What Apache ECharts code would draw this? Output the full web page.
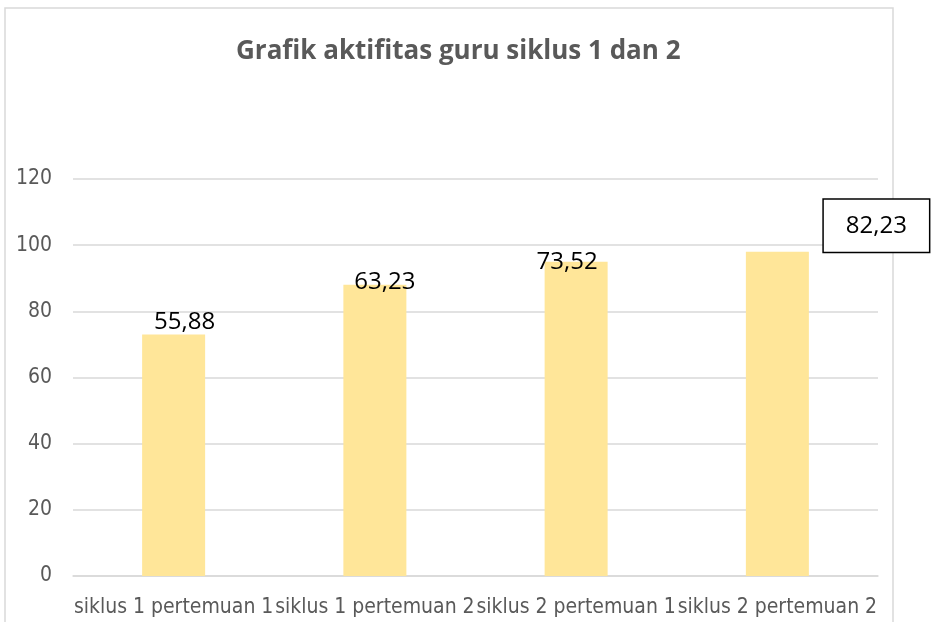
<!DOCTYPE html>
<html>
<head>
<meta charset="utf-8">
<script src="https://cdn.jsdelivr.net/npm/echarts@6/dist/echarts.min.js"></script>
<style>
  html, body { margin: 0; padding: 0; background: #fff; }
  #chart { width: 931px; height: 622px; }
</style>
</head>
<body>
<div id="chart"></div>
<script>
// data
var categories = ["siklus 1 pertemuan 1", "siklus 1 pertemuan 2", "siklus 2 pertemuan 1", "siklus 2 pertemuan 2"];
var barValues = [73, 88, 95, 98];
var labelTexts = ["55,88", "63,23", "73,52", "82,23"];
var yTicks = [0, 20, 40, 60, 80, 100, 120];

var fontFam = "'Open Sans', sans-serif";
var narrowFam = "'DejaVu Sans Condensed', 'Open Sans', sans-serif";
var myChart = echarts.init(document.getElementById("chart"));

// hand-placed label offsets, like in the original
var labelOffsets = [[11, 0], [10, 9], [-9, 12], [99, 0]];

var seriesData = barValues.map(function (v, i) {
  var lab = {
    show: true,
    position: "top",
    distance: 0,
    offset: labelOffsets[i],
    formatter: labelTexts[i],
    color: "#000",
    fontSize: 24,
    fontFamily: fontFam
  };
  if (i === 3) {
    lab.borderColor = "#000";
    lab.borderWidth = 1.5;
    lab.backgroundColor = "#fff";
    lab.padding = [14, 22, 14, 22];
  }
  return { value: v, label: lab };
});

myChart.setOption({
  animation: false,
  title: {
    text: "Grafik aktifitas guru siklus 1 dan 2",
    left: 231,
    top: 34,
    textStyle: {
      color: "#595959",
      fontSize: 26,
      fontWeight: "bold",
      fontFamily: fontFam
    }
  },
  graphic: [
    {
      type: "rect",
      shape: { x: 5, y: 8, width: 888, height: 640 },
      style: { fill: "none", stroke: "#d9d9d9", lineWidth: 1.5 },
      z: -1
    }
  ],
  grid: {
    left: 73,
    right: 53,
    top: 179,
    bottom: 46,
    containLabel: false
  },
  xAxis: {
    type: "category",
    data: categories,
    axisTick: { show: false },
    axisLine: { lineStyle: { color: "#d9d9d9", width: 1.5 } },
    axisLabel: {
      interval: 0,
      color: "#595959",
      fontSize: 21,
      fontFamily: narrowFam,
      margin: 21
    }
  },
  yAxis: {
    type: "value",
    min: yTicks[0],
    max: yTicks[yTicks.length - 1],
    interval: 20,
    axisLine: { show: false },
    axisTick: { show: false },
    axisLabel: {
      color: "#595959",
      fontSize: 21,
      fontFamily: narrowFam,
      margin: 21
    },
    splitLine: { lineStyle: { color: "#d9d9d9", width: 1.5 } }
  },
  series: [
    {
      type: "bar",
      data: seriesData,
      barWidth: 63,
      itemStyle: { color: "#ffe699" }
    }
  ]
});
</script>
</body>
</html>
